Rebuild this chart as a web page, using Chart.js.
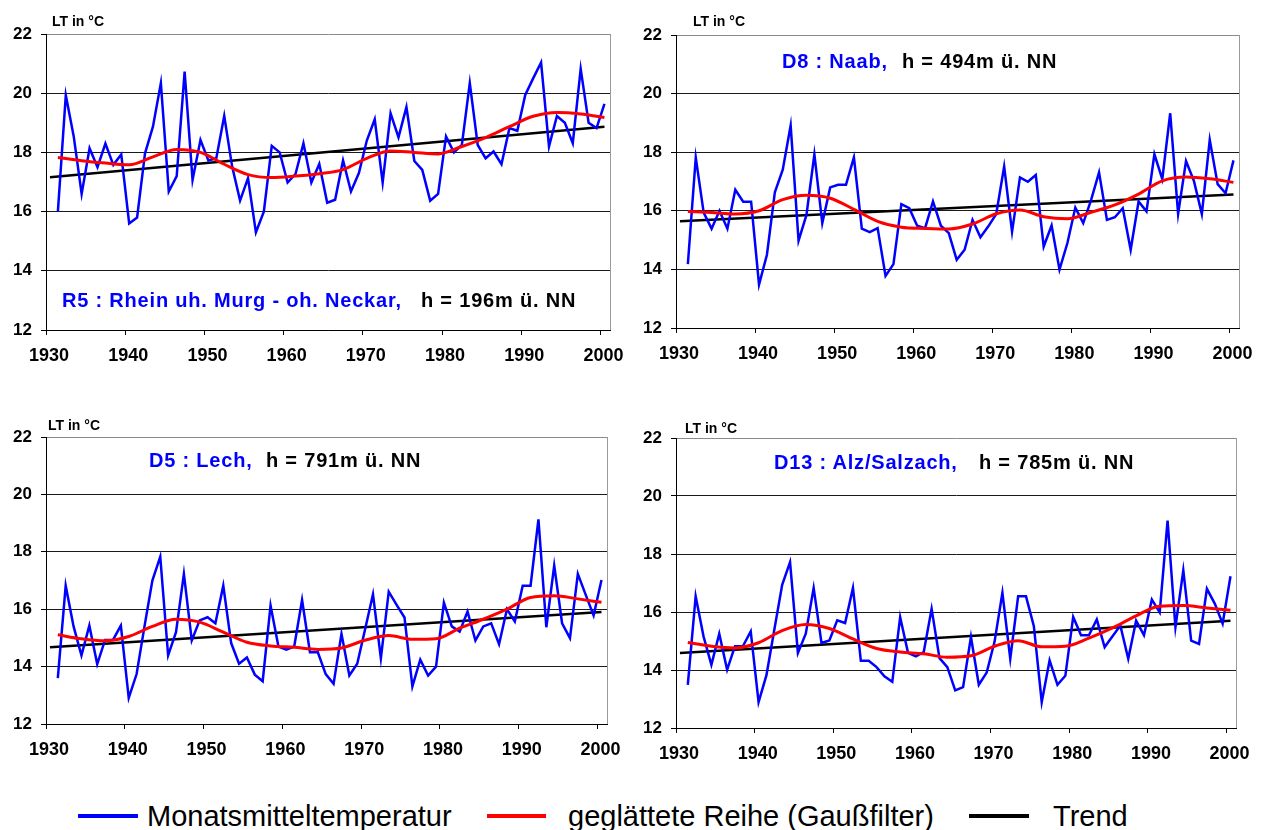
<!DOCTYPE html>
<html>
<head>
<meta charset="utf-8">
<script src="https://cdn.jsdelivr.net/npm/chart.js@4.4.0/dist/chart.umd.min.js"></script>
<style>
  body { margin: 0; background: #fff; width: 1267px; height: 830px; overflow: hidden; position: relative; font-family: "Liberation Sans", Arial, sans-serif; }
  .box { position: absolute; }
  .txt { position: absolute; white-space: nowrap; line-height: 1; font-weight: bold; }
  .unit { font-size: 14px; color: #000; }
  .ttl { font-size: 20px; letter-spacing: 0.8px; }
  .blue { color: #0000ff; }
  .leg { position: absolute; font-size: 29px; line-height: 1; font-weight: normal; white-space: nowrap; color: #000; }
  .legline { position: absolute; height: 4px; }
</style>
</head>
<body>

<div class="box" style="left:0;top:0"><canvas id="c1" width="633" height="380"></canvas></div>
<div class="box" style="left:630;top:0;left:630px"><canvas id="c2" width="633" height="380"></canvas></div>
<div class="box" style="left:0;top:400px"><canvas id="c3" width="633" height="380"></canvas></div>
<div class="box" style="left:630px;top:400px"><canvas id="c4" width="633" height="380"></canvas></div>

<div class="txt unit" style="left:52px;top:14px">LT in °C</div>
<div class="txt unit" style="left:693px;top:14px">LT in °C</div>
<div class="txt unit" style="left:48px;top:418px">LT in °C</div>
<div class="txt unit" style="left:685px;top:421px">LT in °C</div>

<div class="txt ttl blue" style="left:62px;top:290px">R5 : Rhein uh. Murg - oh. Neckar,</div>
<div class="txt ttl" style="left:421px;top:290px">h = 196m ü. NN</div>
<div class="txt ttl blue" style="left:782px;top:51px">D8 : Naab,</div>
<div class="txt ttl" style="left:902px;top:51px">h = 494m ü. NN</div>
<div class="txt ttl blue" style="left:149px;top:450px">D5 : Lech,</div>
<div class="txt ttl" style="left:266px;top:450px">h = 791m ü. NN</div>
<div class="txt ttl blue" style="left:774px;top:452px">D13 : Alz/Salzach,</div>
<div class="txt ttl" style="left:979px;top:452px">h = 785m ü. NN</div>

<div class="legline" style="left:78px;top:814px;width:60px;background:#0000ff"></div>
<div class="leg" style="left:147px;top:802px">Monatsmitteltemperatur</div>
<div class="legline" style="left:487px;top:814px;width:59px;background:#ff0000"></div>
<div class="leg" style="left:568px;top:802px">geglättete Reihe (Gaußfilter)</div>
<div class="legline" style="left:969px;top:814px;width:60px;background:#000"></div>
<div class="leg" style="left:1053px;top:802px">Trend</div>

<script>
// Jahre 1931-2000
const years = [];
for (let y = 1931; y <= 2000; y++) years.push(y);

const yTicks = [12, 14, 16, 18, 20, 22];
const xTicks = [1930, 1940, 1950, 1960, 1970, 1980, 1990, 2000];

// Stützstellen der geglätteten Reihe
const redYears = [1931, 1934, 1937, 1940, 1943, 1946, 1949, 1952, 1955, 1958, 1961, 1964,
  1967, 1970, 1973, 1976, 1979, 1982, 1985, 1988, 1991, 1994, 1997, 2000];
const trendYears = [1930, 2000];

// R5 : Rhein
const r5Temp = [16.0, 19.93, 18.54, 16.6, 18.14, 17.5, 18.3, 17.58, 17.93, 15.6,
  15.8, 17.97, 18.87, 20.34, 16.68, 17.2, 20.73, 17.07, 18.42, 17.73,
  17.8, 19.23, 17.52, 16.37, 17.13, 15.3, 16.0, 18.22, 18.0, 16.98,
  17.27, 18.31, 16.98, 17.61, 16.3, 16.4, 17.73, 16.68, 17.3, 18.4,
  19.12, 16.98, 19.32, 18.51, 19.53, 17.71, 17.41, 16.37, 16.6, 18.54,
  18.0, 18.25, 20.34, 18.25, 17.8, 18.03, 17.6, 18.82, 18.73, 19.94,
  20.5, 21.04, 18.2, 19.23, 19.0, 18.31, 20.82, 19.0, 18.82, 19.64];
const r5Smooth = [17.83, 17.72, 17.64, 17.58, 17.85, 18.1, 18.0, 17.6, 17.25, 17.15, 17.2, 17.28,
  17.42, 17.8, 18.05, 18.0, 17.95, 18.2, 18.5, 18.87, 19.22, 19.35, 19.3, 19.18];
const r5Trend = [17.16, 18.87];

// D8 : Naab
const d8Temp = [14.18, 17.82, 15.94, 15.39, 16.0, 15.39, 16.72, 16.31, 16.31, 13.48,
  14.5, 16.63, 17.4, 18.91, 14.98, 15.86, 17.93, 15.58, 16.8, 16.89,
  16.89, 17.82, 15.39, 15.27, 15.41, 13.78, 14.18, 16.23, 16.09, 15.49,
  15.41, 16.32, 15.49, 15.24, 14.33, 14.67, 15.69, 15.1, 15.47, 15.89,
  17.51, 15.28, 17.14, 16.99, 17.22, 14.78, 15.5, 13.99, 14.9, 16.11,
  15.58, 16.37, 17.31, 15.69, 15.78, 16.09, 14.67, 16.32, 15.98, 17.93,
  17.08, 19.33, 15.89, 17.7, 17.02, 15.89, 18.42, 16.91, 16.6, 17.72];
const d8Smooth = [15.98, 15.94, 15.89, 16.0, 16.38, 16.53, 16.43, 16.05, 15.64, 15.44, 15.4, 15.38,
  15.55, 15.9, 16.03, 15.8, 15.73, 15.95, 16.2, 16.57, 17.02, 17.15, 17.09, 16.97];
const d8Trend = [15.64, 16.56];

// D5 : Lech
const d5Temp = [13.6, 16.82, 15.4, 14.39, 15.43, 14.09, 14.93, 14.93, 15.43, 12.91,
  13.74, 15.4, 17.0, 17.83, 14.39, 15.2, 17.23, 14.91, 15.61, 15.72,
  15.51, 16.82, 14.82, 14.1, 14.32, 13.72, 13.49, 16.13, 14.7, 14.59,
  14.7, 16.32, 14.5, 14.5, 13.74, 13.4, 15.14, 13.69, 14.1, 15.3,
  16.52, 14.29, 16.61, 16.15, 15.71, 13.31, 14.24, 13.69, 14.0, 16.23,
  15.4, 15.22, 15.92, 14.91, 15.4, 15.51, 14.78, 16.0, 15.57, 16.82,
  16.82, 19.13, 15.37, 17.52, 15.51, 14.99, 17.23, 16.5, 15.78, 17.02];
const d5Smooth = [15.11, 14.97, 14.9, 15.05, 15.4, 15.65, 15.55, 15.2, 14.85, 14.72, 14.67, 14.6,
  14.65, 14.92, 15.08, 14.95, 14.97, 15.34, 15.65, 16.0, 16.41, 16.47, 16.36, 16.24];
const d5Trend = [14.67, 15.9];

// D13 : Alz/Salzach
const d13Temp = [13.49, 16.54, 15.16, 14.18, 15.25, 14.01, 14.82, 14.82, 15.33, 12.89,
  13.82, 15.39, 16.94, 17.72, 14.59, 15.25, 16.83, 14.93, 15.02, 15.71,
  15.62, 16.83, 14.32, 14.32, 14.1, 13.78, 13.59, 15.82, 14.59, 14.47,
  14.62, 16.11, 14.41, 14.1, 13.3, 13.41, 15.14, 13.49, 13.91, 14.97,
  16.66, 14.39, 16.54, 16.54, 15.51, 12.89, 14.33, 13.49, 13.8, 15.83,
  15.2, 15.2, 15.74, 14.79, 15.16, 15.53, 14.39, 15.7, 15.2, 16.43,
  15.99, 19.15, 15.48, 17.44, 15.01, 14.9, 16.8, 16.29, 15.6, 17.23];
const d13Smooth = [14.95, 14.82, 14.76, 14.94, 15.36, 15.57, 15.43, 15.07, 14.74, 14.62, 14.56, 14.44,
  14.49, 14.82, 15.01, 14.8, 14.82, 15.1, 15.45, 15.87, 16.2, 16.22, 16.14, 16.06];
const d13Trend = [14.59, 15.7];

Chart.defaults.font.family = '"Liberation Sans", Arial, sans-serif';
Chart.defaults.color = '#000';

// Jahresmittel werden in der Jahresmitte gezeichnet
const X_SHIFT = 0.5;

function pts(xs, ys) {
  return xs.map((x, i) => ({ x: x + X_SHIFT, y: ys[i] }));
}

// rechter grauer Rahmen
const frame = {
  id: 'frame',
  afterDatasetsDraw(chart) {
    const a = chart.chartArea;
    const ctx = chart.ctx;
    ctx.save();
    ctx.strokeStyle = '#9a9a9a';
    ctx.lineWidth = 1;
    ctx.beginPath();
    ctx.moveTo(Math.round(a.right) + 0.5, a.top);
    ctx.lineTo(Math.round(a.right) + 0.5, a.bottom);
    ctx.stroke();
    ctx.restore();
  }
};

function makeChart(id, temp, smooth, trend, pad, xHeight) {
  new Chart(document.getElementById(id), {
    type: 'line',
    data: {
      datasets: [
        { data: pts(trendYears, trend), borderColor: '#000', borderWidth: 2.5, pointRadius: 0, order: 3 },
        { data: pts(years, temp), borderColor: '#0000ff', borderWidth: 2.5, pointRadius: 0, tension: 0, order: 2 },
        { data: pts(redYears, smooth), borderColor: '#ff0000', borderWidth: 3, pointRadius: 0, cubicInterpolationMode: 'monotone', order: 1 }
      ]
    },
    options: {
      responsive: false,
      animation: false,
      layout: { padding: { top: pad.top, right: pad.right, left: 0, bottom: 0 } },
      plugins: { legend: { display: false }, tooltip: { enabled: false } },
      scales: {
        x: {
          type: 'linear',
          min: 1930,
          max: 2001.2,
          afterBuildTicks: (s) => { s.ticks = xTicks.map(v => ({ value: v })); },
          afterFit: (s) => { s.height = xHeight; },
          ticks: { autoSkip: false, maxRotation: 0, padding: 10, labelOffset: 3, font: { size: 18, weight: 'bold' }, callback: v => String(v) },
          grid: { drawOnChartArea: false, drawTicks: true, tickLength: 5, tickColor: '#000' },
          border: { color: '#000', width: 1 }
        },
        y: {
          min: 12,
          max: 22,
          afterBuildTicks: (s) => { s.ticks = yTicks.map(v => ({ value: v })); },
          afterFit: (s) => { s.width = 46; },
          ticks: { padding: 9, font: { size: 17, weight: 'bold' } },
          grid: {
            color: (c) => (c.tick && c.tick.value === 22 ? '#8a8a8a' : '#1a1a1a'),
            tickColor: '#000',
            tickLength: 5,
            lineWidth: 1
          },
          border: { color: '#000', width: 1 }
        }
      }
    },
    plugins: [frame]
  });
}

makeChart('c1', r5Temp, r5Smooth, r5Trend, { top: 34, right: 23 }, 50);
makeChart('c2', d8Temp, d8Smooth, d8Trend, { top: 35, right: 24 }, 52);
makeChart('c3', d5Temp, d5Smooth, d5Trend, { top: 37, right: 26 }, 56);
makeChart('c4', d13Temp, d13Smooth, d13Trend, { top: 38, right: 27 }, 52);
</script>
</body>
</html>
